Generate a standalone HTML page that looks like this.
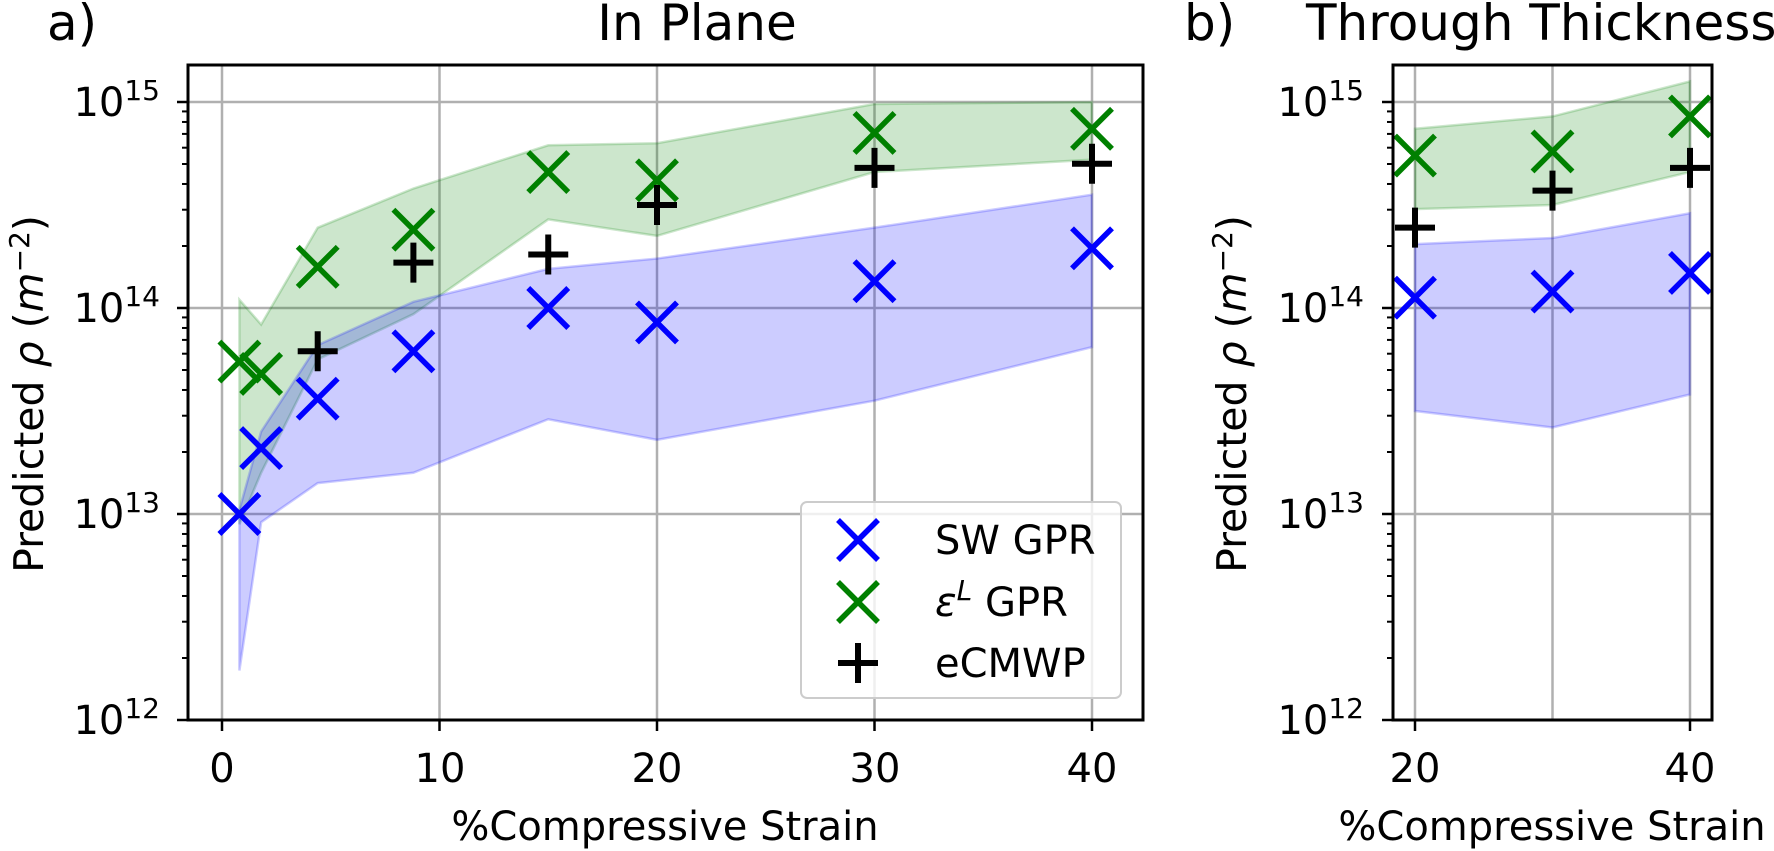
<!DOCTYPE html>
<html><head><meta charset="utf-8"><style>
body{margin:0;background:#fff;}
svg{display:block;font-family:"DejaVu Sans","Liberation Sans",sans-serif;}
</style></head><body>
<svg id="s" width="1774" height="851" xmlns="http://www.w3.org/2000/svg">
<defs>
<clipPath id="cl"><rect x="188" y="65" width="955" height="655"/></clipPath>
<clipPath id="cr"><rect x="1393" y="65" width="319" height="655"/></clipPath>
</defs>
<g id="g"></g>
<text x="47" y="40" font-size="50">a)</text>
<text x="697" y="40" font-size="50" text-anchor="middle">In Plane</text>
<text x="1184" y="40" font-size="50">b)</text>
<text x="1306" y="40" font-size="50">Through Thickness</text>
<text x="665" y="840" font-size="40" text-anchor="middle">%Compressive Strain</text>
<text x="1552" y="840" font-size="40" text-anchor="middle">%Compressive Strain</text>
<text transform="translate(43,394) rotate(-90)" font-size="41" text-anchor="middle">Predicted <tspan font-style="italic">ρ</tspan> (<tspan font-style="italic">m</tspan><tspan font-size="28" dy="-14">−2</tspan><tspan dy="14">)</tspan></text>
<text transform="translate(1246,394) rotate(-90)" font-size="41" text-anchor="middle">Predicted <tspan font-style="italic">ρ</tspan> (<tspan font-style="italic">m</tspan><tspan font-size="28" dy="-14">−2</tspan><tspan dy="14">)</tspan></text>
<g font-size="40" text-anchor="end">
<text x="160" y="116">10<tspan font-size="28" dy="-16">15</tspan></text>
<text x="160" y="322">10<tspan font-size="28" dy="-16">14</tspan></text>
<text x="160" y="528">10<tspan font-size="28" dy="-16">13</tspan></text>
<text x="160" y="734">10<tspan font-size="28" dy="-16">12</tspan></text>
<text x="1364" y="116">10<tspan font-size="28" dy="-16">15</tspan></text>
<text x="1364" y="322">10<tspan font-size="28" dy="-16">14</tspan></text>
<text x="1364" y="528">10<tspan font-size="28" dy="-16">13</tspan></text>
<text x="1364" y="734">10<tspan font-size="28" dy="-16">12</tspan></text>
</g>
<g font-size="40" text-anchor="middle">
<text x="222" y="782">0</text>
<text x="440" y="782">10</text>
<text x="657" y="782">20</text>
<text x="875" y="782">30</text>
<text x="1092" y="782">40</text>
<text x="1415" y="782">20</text>
<text x="1690" y="782">40</text>
</g>
<rect x="801" y="502" width="320" height="196" rx="6" fill="#fff" fill-opacity="0.8" stroke="#ccc" stroke-width="2"/>
<g font-size="40">
<text x="935" y="554">SW GPR</text>
<text x="935" y="616"><tspan font-style="italic">ε</tspan><tspan font-size="28" dy="-16" font-style="italic">L</tspan><tspan dy="16"> GPR</tspan></text>
<text x="935" y="677">eCMWP</text>
</g>
<g id="leg"></g>
</svg>
<script>
const NS="http://www.w3.org/2000/svg";
const g=document.getElementById('g');
function el(t,a,p){const e=document.createElementNS(NS,t);for(const k in a)e.setAttribute(k,a[k]);(p||g).appendChild(e);return e;}
const YL=l=>102+(15-l)*206;
const XL=x=>222+21.75*x;
const XR=x=>1415+13.75*(x-20);
function grid(X,xs,x0,x1,clip){
  const gg=el('g',{'clip-path':`url(#${clip})`});
  xs.forEach(v=>el('line',{x1:X(v),x2:X(v),y1:65,y2:720,stroke:'#b0b0b0','stroke-width':2.5},gg));
  [12,13,14,15].forEach(l=>el('line',{x1:x0,x2:x1,y1:YL(l),y2:YL(l),stroke:'#b0b0b0','stroke-width':2.5},gg));
  return gg;
}
function band(X,up,lo,col,gg){
  let pts=up.map(p=>X(p[0])+','+YL(p[1]));
  pts=pts.concat(lo.slice().reverse().map(p=>X(p[0])+','+YL(p[1])));
  el('polygon',{points:pts.join(' '),fill:col,'fill-opacity':0.2,stroke:col,'stroke-opacity':0.2,'stroke-width':2.5},gg);
}
function xm(cx,cy,col,gg){const h=20;el('path',{d:`M${cx-h},${cy-h}L${cx+h},${cy+h}M${cx-h},${cy+h}L${cx+h},${cy-h}`,stroke:col,'stroke-width':5.5,fill:'none'},gg);}
function pm(cx,cy,gg){const h=20;el('path',{d:`M${cx-h},${cy}L${cx+h},${cy}M${cx},${cy-h}L${cx},${cy+h}`,stroke:'#000','stroke-width':6,fill:'none'},gg);}
const gl=grid(XL,[0,10,20,30,40],188,1143,'cl');
const xs=[0.8,1.8,4.4,8.8,15,20,30,40];
band(XL,xs.map((x,i)=>[x,[14.04,13.92,14.39,14.58,14.79,14.8,14.99,15.0][i]]),xs.map((x,i)=>[x,[12.95,13.2,13.75,13.97,14.43,14.35,14.66,14.72][i]]),'#008000',gl);
band(XL,xs.map((x,i)=>[x,[13.02,13.4,13.82,14.03,14.19,14.24,14.39,14.55][i]]),xs.map((x,i)=>[x,[12.24,12.96,13.15,13.2,13.46,13.36,13.55,13.81][i]]),'#0000ff',gl);
[13.0,13.32,13.56,13.79,14.0,13.93,14.13,14.29].forEach((l,i)=>xm(XL(xs[i]),YL(l),'#0000ff',gl));
[13.74,13.68,14.2,14.38,14.66,14.62,14.85,14.87].forEach((l,i)=>xm(XL(xs[i]),YL(l),'#008000',gl));
[[4.4,13.79],[8.8,14.22],[15,14.26],[20,14.5],[30,14.68],[40,14.7]].forEach(p=>pm(XL(p[0]),YL(p[1]),gl));
const gr=grid(XR,[20,30,40],1393,1712,'cr');
const rx=[20,30,40];
band(XR,rx.map((x,i)=>[x,[14.87,14.93,15.1][i]]),rx.map((x,i)=>[x,[14.48,14.5,14.66][i]]),'#008000',gr);
band(XR,rx.map((x,i)=>[x,[14.31,14.34,14.46][i]]),rx.map((x,i)=>[x,[13.5,13.42,13.58][i]]),'#0000ff',gr);
[14.05,14.08,14.17].forEach((l,i)=>xm(XR(rx[i]),YL(l),'#0000ff',gr));
[14.74,14.76,14.93].forEach((l,i)=>xm(XR(rx[i]),YL(l),'#008000',gr));
[14.39,14.57,14.68].forEach((l,i)=>pm(XR(rx[i]),YL(l),gr));
function axes(x0,x1,X,xt){
  el('rect',{x:x0,y:65,width:x1-x0,height:655,fill:'none',stroke:'#000','stroke-width':3});
  xt.forEach(v=>el('line',{x1:X(v),x2:X(v),y1:720,y2:731,stroke:'#000','stroke-width':2.5}));
  for(let d=12;d<=15;d++){
    el('line',{x1:x0-11,x2:x0,y1:YL(d),y2:YL(d),stroke:'#000','stroke-width':2.5});
    if(d<15)for(let m=2;m<=9;m++){const y=YL(d+Math.log10(m));el('line',{x1:x0-6,x2:x0,y1:y,y2:y,stroke:'#000','stroke-width':2});}
  }
}
axes(188,1143,XL,[0,10,20,30,40]);
axes(1393,1712,XR,[20,40]);
const lg=document.getElementById('leg');
xm(858,540,'#0000ff',lg);xm(858,602,'#008000',lg);pm(858,663,lg);
</script>
</body></html>
